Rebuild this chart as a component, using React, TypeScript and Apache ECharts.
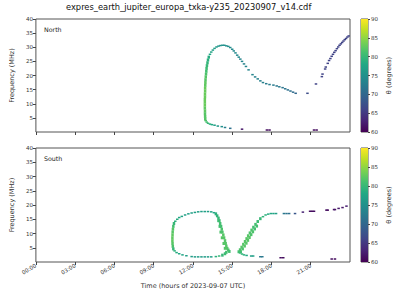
import React, { useEffect, useRef } from "react";
import * as echarts from "echarts";

const fileTitle = "expres_earth_jupiter_europa_txka-y235_20230907_v14.cdf";
const hourTicks = [0, 3, 6, 9, 12, 15, 18, 21];
const freqTicks = [5, 10, 15, 20, 25, 30, 35, 40];
const panelNames = ["North", "South"];
const xTitle = "Time (hours of 2023-09-07 UTC)";
const yTitle = "Frequency (MHz)";
const cbTitle = "θ (degrees)";

// [hour, frequency MHz, theta deg]
const northBand: [number, number, number][] = [
  [12.94, 4.6, 82], [12.93, 5.5, 82], [12.92, 6.5, 82], [12.92, 7.5, 82.5], [12.91, 8.5, 82.5],
  [12.91, 9.5, 83], [12.91, 10.5, 83], [12.91, 11.5, 83], [12.92, 12.5, 83], [12.92, 13.5, 83],
  [12.93, 14.5, 83], [12.93, 15.5, 83], [12.94, 16.5, 82.5], [12.95, 17.5, 82.5], [12.96, 18.5, 82],
  [12.98, 19.5, 82], [13.0, 20.5, 81.5], [13.02, 21.5, 81], [13.04, 22.5, 80.5], [13.07, 23.5, 80],
  [13.11, 24.5, 79.5], [13.15, 25.5, 79], [13.21, 26.5, 78.5],
];
const northArc: [number, number, number][] = [
  [13.3, 27.5, 78], [13.4, 28.3, 77.5], [13.52, 29.0, 77], [13.65, 29.6, 76.5], [13.8, 30.1, 76],
  [13.95, 30.4, 75.5], [14.1, 30.6, 75.5], [14.25, 30.7, 75], [14.4, 30.7, 75], [14.55, 30.5, 75],
  [14.7, 30.3, 74.5], [14.85, 29.9, 74.5], [15.0, 29.3, 74], [15.12, 28.7, 74], [15.25, 28.0, 74],
  [15.38, 27.2, 74], [15.5, 26.5, 74], [15.62, 25.8, 73.5], [15.75, 25.0, 73.5], [15.9, 24.1, 73.5],
  [16.05, 23.2, 73.5], [16.25, 22.0, 73.5], [16.55, 20.3, 73.5], [16.75, 19.5, 73], [16.95, 18.8, 73],
  [17.15, 18.1, 73], [17.35, 17.5, 73], [17.6, 17.1, 72.5], [17.85, 16.8, 72.5], [18.15, 16.6, 72.5],
  [18.4, 16.3, 72], [18.6, 16.0, 72], [18.85, 15.7, 71.5], [19.05, 15.3, 71.5], [19.25, 14.9, 71],
  [19.45, 14.5, 71], [19.65, 14.1, 70.5], [19.85, 13.7, 70], [20.75, 13.7, 67], [21.4, 17.0, 66],
  [21.85, 19.6, 66], [21.9, 20.5, 66], [22.1, 22.3, 66], [22.15, 23.0, 66], [22.3, 24.3, 66],
  [22.4, 25.3, 66], [22.5, 26.0, 66], [22.6, 26.8, 66], [22.7, 27.5, 66], [22.8, 28.2, 66],
  [22.9, 28.8, 66], [23.0, 29.5, 66], [23.1, 30.1, 66], [23.2, 30.7, 66], [23.3, 31.2, 66],
  [23.4, 31.7, 66], [23.5, 32.2, 66], [23.6, 32.7, 66], [23.7, 33.1, 66], [23.8, 33.6, 66],
  [23.9, 34.0, 66],
  [12.98, 4.0, 81.5], [13.05, 3.5, 81], [13.15, 3.1, 80], [13.3, 2.8, 79], [13.45, 2.6, 78],
  [13.65, 2.4, 77], [13.9, 2.1, 76], [14.2, 1.9, 75], [14.45, 1.6, 73], [14.85, 1.3, 71],
  [15.75, 1.0, 62], [17.65, 0.7, 61], [17.85, 0.7, 61], [21.25, 0.7, 61], [21.45, 0.7, 61],
];
const southBand: [number, number, number][] = [
  [10.55, 13.5, 80], [10.5, 12.5, 81], [10.47, 11.5, 82], [10.45, 10.5, 82], [10.44, 9.5, 82.5],
  [10.43, 8.5, 82.5], [10.43, 7.5, 82.5], [10.44, 6.5, 82], [10.46, 5.5, 81.5], [10.5, 4.6, 80],
  [13.75, 16.9, 79], [13.85, 16.2, 79.5], [13.95, 15.4, 80], [14.02, 14.5, 80.5], [14.08, 13.5, 81],
  [14.15, 12.5, 81], [14.2, 11.5, 81.5], [14.25, 10.5, 81.5], [14.32, 9.5, 82], [14.38, 8.5, 82],
  [14.45, 7.5, 82], [14.5, 6.5, 82], [14.55, 5.6, 82], [14.62, 4.8, 82], [14.7, 4.2, 81.5],
  [14.78, 3.7, 81], [13.95, 14.5, 80.5], [14.05, 12.5, 81], [14.12, 10.5, 81.5], [14.22, 8.5, 82],
  [14.35, 6.5, 82], [14.45, 4.8, 82], [14.55, 3.4, 81], [14.45, 2.9, 80.5], [14.25, 2.4, 80],
  [15.5, 3.6, 81], [15.6, 4.3, 81.5], [15.72, 5.2, 82], [15.85, 6.2, 82], [15.98, 7.2, 82],
  [16.1, 8.2, 82], [16.22, 9.2, 82], [16.35, 10.2, 81.5], [16.48, 11.2, 81.5], [16.62, 12.2, 81],
  [16.78, 13.2, 81], [16.95, 14.2, 80.5], [17.15, 15.2, 80], [15.65, 3.6, 81], [15.8, 4.6, 81.5],
  [15.95, 5.6, 82], [16.08, 6.6, 82], [16.2, 7.6, 82], [16.32, 8.6, 82], [16.45, 9.6, 81.5],
  [16.58, 10.6, 81.5], [16.72, 11.6, 81], [16.88, 12.6, 81],
];
const southArc: [number, number, number][] = [
  [10.6, 3.9, 79], [10.75, 3.3, 78.5], [10.95, 2.9, 78], [11.2, 2.5, 77.5], [11.5, 2.2, 77],
  [11.9, 1.9, 76.5], [12.15, 1.8, 76.5], [12.4, 1.8, 76.5], [12.65, 1.8, 76.5], [12.9, 1.8, 76.5],
  [13.15, 1.8, 76.5], [13.4, 1.8, 77], [13.75, 1.9, 79], [14.0, 2.1, 80],
  [10.65, 14.3, 79], [10.8, 15.0, 78.5], [10.95, 15.6, 78], [11.15, 16.0, 77.5], [11.4, 16.5, 77],
  [11.65, 16.9, 77], [11.9, 17.2, 77], [12.15, 17.4, 77], [12.4, 17.6, 77], [12.65, 17.7, 77],
  [12.9, 17.7, 77], [13.15, 17.7, 77], [13.4, 17.6, 77.5], [13.6, 17.3, 78],
  [17.35, 15.9, 79.5], [17.55, 16.5, 79], [17.75, 16.8, 78.5], [17.95, 17.0, 78], [18.15, 17.0, 77.5],
  [18.35, 17.0, 77], [18.95, 17.0, 72], [19.15, 17.0, 71.5], [19.35, 17.0, 71], [19.8, 17.0, 68],
  [20.4, 17.5, 63], [20.95, 17.8, 61], [21.1, 17.8, 61], [21.25, 17.8, 61], [22.2, 18.2, 61],
  [22.3, 18.2, 61], [22.78, 18.4, 61.5], [22.85, 18.4, 61.5], [23.13, 18.8, 62], [23.43, 19.1, 62],
  [23.73, 19.6, 62.5],
  [15.6, 3.2, 80], [15.75, 2.8, 79.5], [15.9, 2.5, 79], [16.1, 2.3, 78], [16.45, 2.1, 77],
  [16.6, 2.1, 77], [17.15, 1.85, 72], [17.3, 1.85, 72], [18.7, 1.5, 61], [18.9, 1.5, 61],
  [22.6, 1.05, 61], [22.85, 1.05, 61],
];

const viridis = [
  "#440154", "#482475", "#414487", "#355f8d", "#2a788e", "#21918c",
  "#22a884", "#44bf70", "#7ad151", "#bddf26", "#fde725",
];

const FONT = "DejaVu Sans";

export default function App() {
  const ref = useRef<HTMLDivElement>(null);
  useEffect(() => {
    if (!ref.current) return;
    const chart = echarts.init(ref.current, undefined, { renderer: "svg" });
    const grids = [
      { left: 31, top: 19, width: 319, height: 113 },
      { left: 31, top: 148, width: 319, height: 114 },
      { left: 361, top: 19, width: 7, height: 113 },
      { left: 361, top: 148, width: 7, height: 114 },
    ].map((g) => ({ ...g, show: true, borderColor: "#555", borderWidth: 1, backgroundColor: "transparent" }));

    const xAxes: any[] = [0, 1].map((i) => ({
      type: "value",
      gridIndex: i,
      min: 0,
      max: 24,
      interval: 3,
      axisLine: { show: false },
      splitLine: { show: false },
      axisTick: { show: true, length: 3, customValues: hourTicks, lineStyle: { color: "#444" } },
      axisLabel: {
        show: i === 1,
        customValues: hourTicks,
        rotate: 30,
        fontSize: 5.5,
        fontFamily: FONT,
        color: "#333",
        margin: 3,
        formatter: (v: number) => String(v).padStart(2, "0") + ":00",
      },
      name: i === 1 ? xTitle : "",
      nameLocation: "middle",
      nameGap: 20,
      nameTextStyle: { fontSize: 6.5, fontFamily: FONT, color: "#333" },
    }));
    const yAxes: any[] = [0, 1].map((i) => ({
      type: "value",
      gridIndex: i,
      min: 0,
      max: 40,
      interval: 5,
      axisLine: { show: false },
      splitLine: { show: false },
      axisTick: { show: true, length: 3, customValues: freqTicks, lineStyle: { color: "#444" } },
      axisLabel: { customValues: freqTicks, fontSize: 5.5, fontFamily: FONT, color: "#333", margin: 3 },
      name: yTitle,
      nameLocation: "middle",
      nameGap: 16,
      nameRotate: 90,
      nameTextStyle: { fontSize: 6.5, fontFamily: FONT, color: "#333" },
    }));
    [2, 3].forEach((i) => {
      xAxes.push({ type: "category", gridIndex: i, data: ["cb"], show: false });
      yAxes.push({
        type: "value",
        gridIndex: i,
        position: "right",
        min: 60,
        max: 90,
        interval: 5,
        axisLine: { show: false },
        splitLine: { show: false },
        axisTick: { show: true, length: 2, lineStyle: { color: "#444" } },
        axisLabel: { fontSize: 5.5, fontFamily: FONT, color: "#333", margin: 3 },
        name: cbTitle,
        nameLocation: "middle",
        nameGap: 17,
        nameRotate: 90,
        nameTextStyle: { fontSize: 6.5, fontFamily: FONT, color: "#333" },
      });
    });

    const scatter = (data: [number, number, number][], idx: number, size: number[]) => ({
      type: "scatter",
      xAxisIndex: idx,
      yAxisIndex: idx,
      data,
      symbol: "rect",
      symbolSize: size,
      itemStyle: { opacity: 1 },
      z: 3,
    });

    const gradient = new echarts.graphic.LinearGradient(
      0, 1, 0, 0,
      viridis.map((c, k) => ({ offset: k / (viridis.length - 1), color: c }))
    );
    const cbSeries: any[] = [];
    [2, 3].forEach((i) => {
      cbSeries.push({
        type: "bar", xAxisIndex: i, yAxisIndex: i, stack: "cb" + i, data: [60],
        barWidth: "100%", itemStyle: { color: "transparent" }, silent: true,
      });
      cbSeries.push({
        type: "bar", xAxisIndex: i, yAxisIndex: i, stack: "cb" + i, data: [30],
        barWidth: "100%", itemStyle: { color: gradient }, silent: true,
      });
    });

    chart.setOption({
      animation: false,
      textStyle: { fontFamily: FONT },
      title: [
        { text: fileTitle, left: 66, top: 3, padding: 0, textStyle: { fontSize: 8.3, fontWeight: "normal", fontFamily: FONT, color: "#111" } },
        { text: panelNames[0], left: 44, top: 26, padding: 0, textStyle: { fontSize: 6.3, fontWeight: "normal", fontFamily: FONT, color: "#222" } },
        { text: panelNames[1], left: 44, top: 155, padding: 0, textStyle: { fontSize: 6.3, fontWeight: "normal", fontFamily: FONT, color: "#222" } },
      ],
      grid: grids,
      xAxis: xAxes,
      yAxis: yAxes,
      visualMap: {
        type: "continuous",
        show: false,
        dimension: 2,
        min: 60,
        max: 90,
        seriesIndex: [0, 1, 2, 3],
        inRange: { color: viridis },
      },
      series: [
        scatter(northBand, 0, [2.5, 3]),
        scatter(northArc, 0, [2.5, 1.5]),
        scatter(southBand, 1, [2.5, 3]),
        scatter(southArc, 1, [2.5, 1.5]),
        ...cbSeries,
      ],
    });
    return () => chart.dispose();
  }, []);
  return <div ref={ref} style={{ position: "fixed", left: 0, top: 0, width: 400, height: 300, background: "#fff" }} />;
}
